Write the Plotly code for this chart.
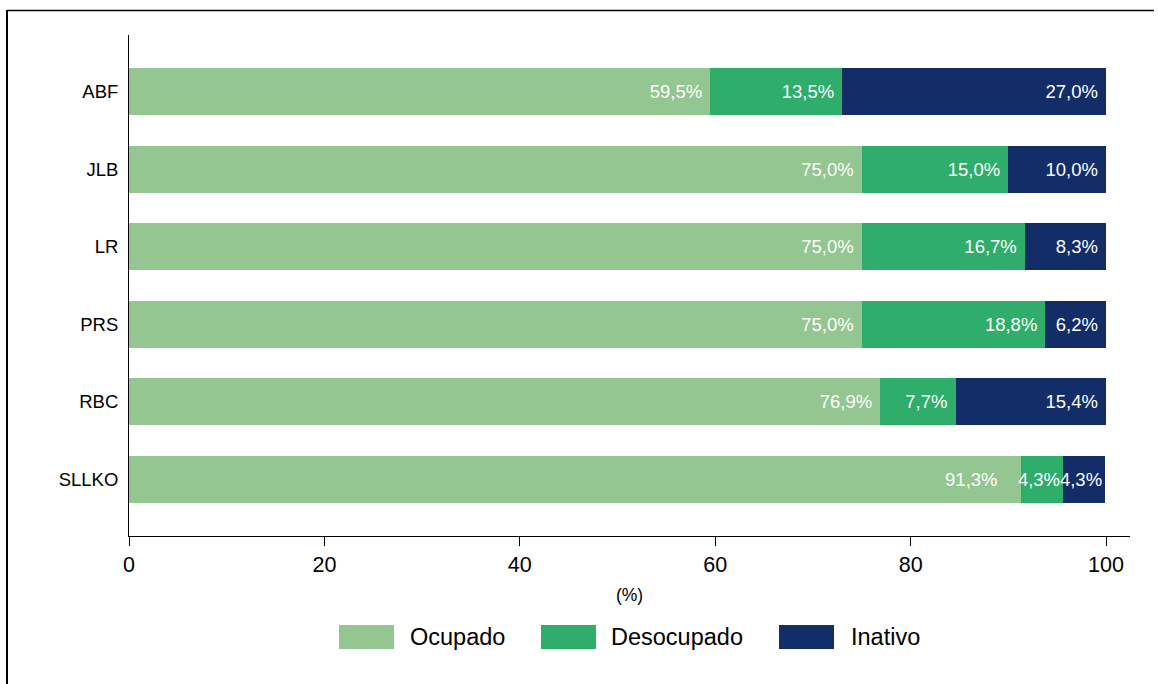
import plotly.graph_objects as go

# data (percent of each group)
groups = ["ABF", "JLB", "LR", "PRS", "RBC", "SLLKO"]
ocupado = [59.5, 75.0, 75.0, 75.0, 76.9, 91.3]
desocupado = [13.5, 15.0, 16.7, 18.8, 7.7, 4.3]
inativo = [27.0, 10.0, 8.3, 6.2, 15.4, 4.3]

series = [
    ("Ocupado", ocupado, "#93c690"),
    ("Desocupado", desocupado, "#2ead6b"),
    ("Inativo", inativo, "#122d67"),
]

# extra spacing (in non-breaking spaces) after each label, per series and group
label_pad = {
    "Ocupado": [1, 1, 1, 1, 1, 4],
    "Desocupado": [1, 1, 1, 1, 1, 0],
    "Inativo": [1, 1, 1, 1, 1, 0],
}

FONT = "Liberation Sans, Arial, sans-serif"
W, H = 1158, 684
# plot area in pixels
L, R, T, B = 129, 1130, 35, 536


def px(x):
    return (x - L) / (R - L)


def py(y):
    return (B - y) / (B - T)


def fmt(v, pad):
    return f"{v:.1f}".replace(".", ",") + "%" + "\u00a0" * pad


fig = go.Figure()
for name, vals, color in series:
    fig.add_trace(go.Bar(
        y=groups, x=vals, name=name, orientation="h",
        marker=dict(color=color, line=dict(width=0)),
        text=[fmt(v, p) for v, p in zip(vals, label_pad[name])],
        texttemplate="%{text}", textposition="inside",
        insidetextanchor="end", textangle=0,
        textfont=dict(color="white", size=18.5, family=FONT),
        showlegend=False,
    ))

shapes = [
    # outer frame (top and left edges)
    dict(type="line", xref="paper", yref="paper", x0=px(7), x1=px(1154), y0=py(10.5), y1=py(10.5),
         line=dict(color="black", width=1.5)),
    dict(type="line", xref="paper", yref="paper", x0=px(7), x1=px(7), y0=py(10), y1=py(690),
         line=dict(color="black", width=2)),
]
annotations = []

# manual legend with wide swatches
legend_pos = [(339, 408), (541, 609), (779, 849)]
for (name, _, color), (bx, tx) in zip(series, legend_pos):
    shapes.append(dict(type="rect", xref="paper", yref="paper",
                       x0=px(bx), x1=px(bx + 55), y0=py(649), y1=py(625),
                       fillcolor=color, line=dict(width=0)))
    annotations.append(dict(xref="paper", yref="paper", x=px(tx), y=py(637),
                            text=name, showarrow=False, xanchor="left", yanchor="middle",
                            font=dict(size=23.5, color="black", family=FONT)))

fig.update_layout(
    width=W, height=H,
    barmode="stack", bargap=0.395,
    uniformtext=dict(minsize=18, mode="show"),
    paper_bgcolor="white", plot_bgcolor="white",
    margin=dict(l=L, r=W - R, t=T, b=H - B, pad=0),
    font=dict(family=FONT, color="black"),
    xaxis=dict(
        range=[0, 102.45], tickvals=[0, 20, 40, 60, 80, 100],
        showgrid=False, zeroline=False,
        showline=True, linecolor="black", linewidth=1,
        ticks="outside", ticklen=9, tickcolor="black", tickwidth=1,
        tickfont=dict(size=21.5), ticklabelstandoff=0,
        title=dict(text="(%)", font=dict(size=17.5), standoff=12),
    ),
    yaxis=dict(
        autorange=False, range=[5.728, -0.728],
        showgrid=False, zeroline=False,
        showline=True, linecolor="black", linewidth=1,
        ticks="", tickfont=dict(size=18.5), ticklabelstandoff=6,
    ),
    shapes=shapes,
    annotations=annotations,
)

# drop the default page margin so the figure sits at the window corner
fig.write_html("out.html", config={"displayModeBar": False},
               post_script="document.body.style.margin='0px';")
